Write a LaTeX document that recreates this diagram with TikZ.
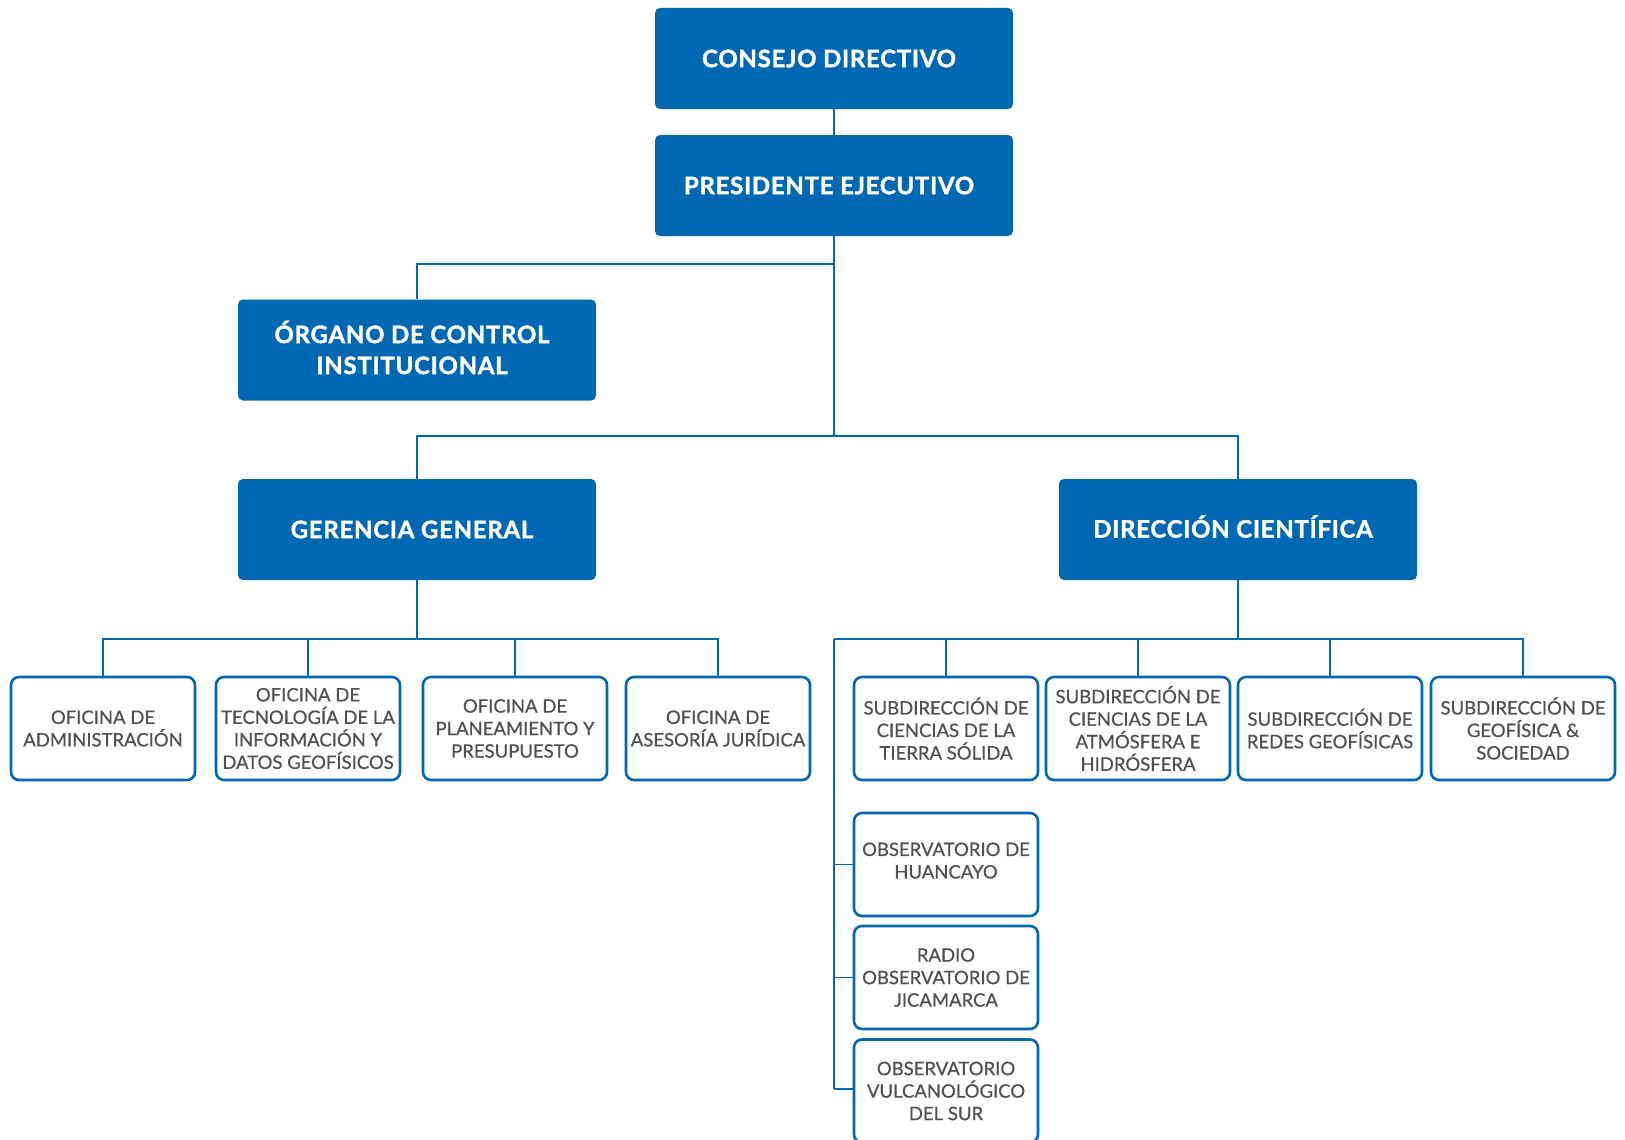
\documentclass[tikz,border=0pt]{standalone}
\usepackage{fontspec}
\setmainfont{Lato}
\newfontfamily\headfont[LetterSpace=3, BoldFeatures={FakeBold=1.6}]{Lato}
\newfontfamily\unitfont[FakeBold=0.6]{Lato}
\definecolor{ibblue}{HTML}{0068B3}
\definecolor{ibgray}{HTML}{505050}
\begin{document}
\begin{tikzpicture}[x=1pt,y=-1pt,
  head/.style={fill=ibblue, rounded corners=5pt, minimum width=358pt, minimum height=101pt, inner sep=0pt},
  headtext/.style={text=white, font=\fontsize{24}{31}\headfont\bfseries, align=center, inner sep=0pt, xshift=-5pt},
  unit/.style={draw=ibblue, line width=2.6pt, fill=white, rounded corners=8pt, minimum width=184pt,
    minimum height=103pt, text=ibgray, font=\fontsize{18.5}{22.5}\unitfont, align=center, inner sep=0pt},
  link/.style={draw=ibblue, line width=1.4pt}]
\useasboundingbox (0,0) rectangle (1625,1140);
\fill[white] (0,0) rectangle (1625,1140);
% top
\node[head] (cd) at (834,58.5) {};
\node[headtext] (cdt) at (cd) {CONSEJO DIRECTIVO};
\node[head] (pe) at (834,185.5) {};
\node[headtext] (pet) at (pe) {PRESIDENTE EJECUTIVO};
\node[head] (oc) at (417,350) {};
\node[headtext, yshift=2.5pt] (oct) at (oc) {ÓRGANO DE CONTROL\\INSTITUCIONAL};
\node[head] (gg) at (417,529.5) {};
\node[headtext] (ggt) at (gg) {GERENCIA GENERAL};
\node[head] (dc) at (1238,529.5) {};
\node[headtext, yshift=3pt] (dct) at (dc) {DIRECCIÓN CIENTÍFICA};
% junction coordinates
\coordinate (j1) at (834,264);
\coordinate (j1l) at (417,264);
\coordinate (j2) at (834,436);
\coordinate (j2l) at (417,436);
\coordinate (j2r) at (1238,436);
\coordinate (j3) at (417,639);
\coordinate (j4) at (1238,639);
% left row
\node[unit] (o1) at (103,728.5) {OFICINA DE\\ADMINISTRACIÓN};
\node[unit] (o2) at (308,728.5) {OFICINA DE\\TECNOLOGÍA DE LA\\INFORMACIÓN Y\\DATOS GEOFÍSICOS};
\node[unit] (o3) at (515,728.5) {OFICINA DE\\PLANEAMIENTO Y\\PRESUPUESTO};
\node[unit] (o4) at (718,728.5) {OFICINA DE\\ASESORÍA JURÍDICA};
% right row
\node[unit] (s1) at (946,728.5) {SUBDIRECCIÓN DE\\CIENCIAS DE LA\\TIERRA SÓLIDA};
\node[unit] (s2) at (1138,728.5) {SUBDIRECCIÓN DE\\CIENCIAS DE LA\\ATMÓSFERA E\\HIDRÓSFERA};
\node[unit] (s3) at (1330,728.5) {SUBDIRECCIÓN DE\\REDES GEOFÍSICAS};
\node[unit] (s4) at (1523,728.5) {SUBDIRECCIÓN DE\\GEOFÍSICA \&\\SOCIEDAD};
% observatories
\node[unit] (b1) at (946,864.5) {OBSERVATORIO DE\\HUANCAYO\\[-14.5pt]};
\node[unit] (b2) at (946,977.5) {RADIO\\OBSERVATORIO DE\\JICAMARCA};
\node[unit] (b3) at (946,1091) {OBSERVATORIO\\VULCANOLÓGICO\\DEL SUR};
\coordinate (v0) at (834,639);
\coordinate (vb) at (834,1089);
% connectors
\draw[link] (cd.south) -- (pe.north);
\draw[link] (pe.south) -- (j2);
\draw[link] (j1) -- (j1l) -- (oc.north);
\draw[link] (gg.north) -- (j2l) -- (j2r) -- (dc.north);
\draw[link] (gg.south) -- (j3);
\draw[link] (o1.north) |- (j3);
\draw[link] (j3) -| (o4.north);
\draw[link] (o2.north) -- (o2.north |- j3);
\draw[link] (o3.north) -- (o3.north |- j3);
\draw[link] (dc.south) -- (j4);
\draw[link] (v0) -| (s4.north);
\draw[link] (s1.north) -- (s1.north |- j4);
\draw[link] (s2.north) -- (s2.north |- j4);
\draw[link] (s3.north) -- (s3.north |- j4);
\draw[link] (v0) -- (vb);
\draw[link] (b1.west -| v0) -- (b1.west);
\draw[link] (b2.west -| v0) -- (b2.west);
\draw[link] (vb) -- (vb -| b3.west);
\end{tikzpicture}
\end{document}
